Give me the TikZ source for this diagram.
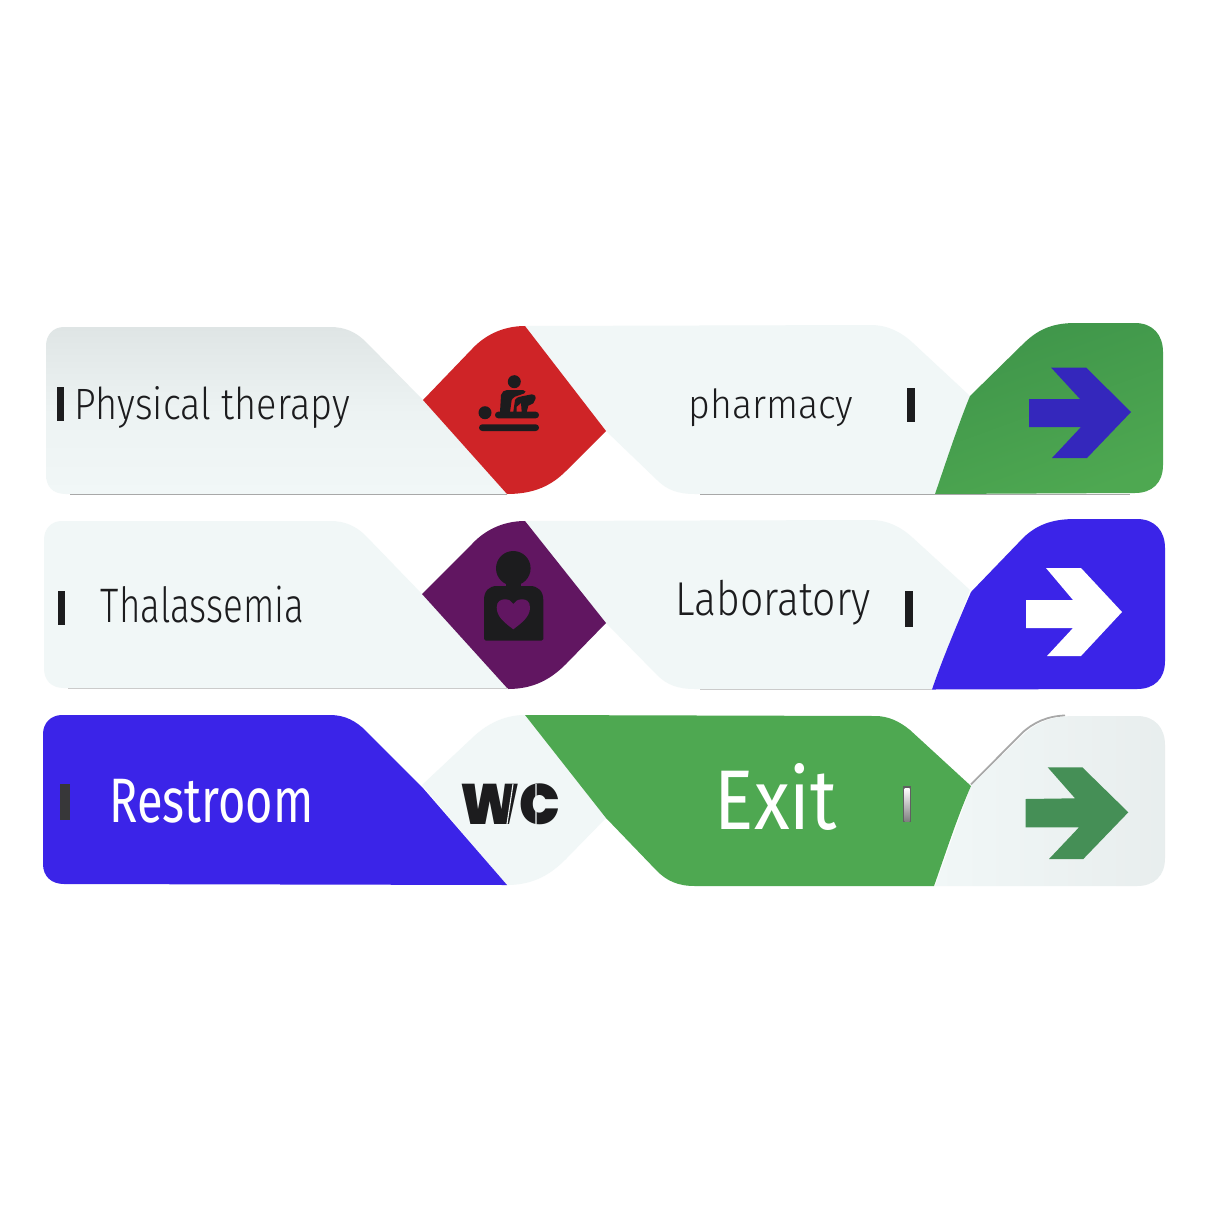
\documentclass[tikz,border=0pt]{standalone}
\usepackage{fontspec}
\usepackage{graphicx}
\setmainfont{Fira Sans Light}
\newfontfamily\whitefont{Fira Sans}
\newfontfamily\heavyfont{Poppins Black}
\definecolor{panel}{HTML}{F1F7F7}
\definecolor{panelgrey}{HTML}{DFE5E5}
\definecolor{signred}{HTML}{CF2427}
\definecolor{signpurple}{HTML}{611661}
\definecolor{signgreen}{HTML}{4EA851}
\definecolor{signgreendark}{HTML}{3F954A}
\definecolor{signblue}{HTML}{3B24E8}
\definecolor{arrowblue}{HTML}{3427BC}
\definecolor{arrowgreen}{HTML}{458F56}
\definecolor{ink}{HTML}{1C1C1E}
\definecolor{edge}{HTML}{A8A8A8}
\tikzset{
  signtext/.style={inner sep=0pt,outer sep=0pt,text=ink},
  slot/.style={fill=ink,draw=none},
  edgeline/.style={draw=edge,line width=0.8pt},
  icon/.style={fill=ink,draw=none}
}
% #1 name, #2 x centre, #3 y centre, #4 width, #5 height, #6 colour, #7 text
\newcommand{\signlabel}[7]{\node[signtext,text=#6] (#1) at (#2,#3) {\resizebox*{#4pt}{#5pt}{#7}};}
\begin{document}
\begin{tikzpicture}[x=1pt,y=-1pt]
\useasboundingbox (0,0) rectangle (1210,1210);
\fill[white] (0,0) rectangle (1210,1210);

% ===== ROW 1 =====
\shade[top color=panelgrey,bottom color=panel,middle color=panel!75!panelgrey]
 (64,327) -- (330,327) .. controls (345,327) and (356,332) .. (366,342) -- (423,400) -- (507,494) -- (66,494)
 .. controls (52,494) and (46,486) .. (46,474) -- (46,346) .. controls (46,335) and (53,327) .. (64,327) -- cycle;
\fill[panel] (525,326) -- (870,325) .. controls (888,325) and (901,332) .. (913,343) -- (970,396) -- (935,494)
 -- (695,494) .. controls (678,494) and (667,490) .. (657,480) -- (606,431) -- cycle;
\fill[signred] (423,400) -- (472,349) .. controls (484,336) and (502,326) .. (525,326) -- (606,431)
 -- (566,471) .. controls (552,485) and (535,494) .. (507,494) -- cycle;
\shade[top color=signgreendark,bottom color=signgreen,shading angle=20]
 (970,396) -- (1022,345) .. controls (1036,331) and (1050,323) .. (1075,323) -- (1135,323)
 .. controls (1153,323) and (1163,335) .. (1163,352) -- (1163,465) .. controls (1163,483) and (1152,493) .. (1135,493)
 -- (935,494) .. controls (945,465) and (958,425) .. (970,396) -- cycle;
\draw[edgeline] (70,494.5) -- (507,494.5) (700,494.5) -- (1130,494.5);
\fill[slot] (57,387) rectangle (64,421);
\fill[slot] (907,388) rectangle (915,422);
\signlabel{physical}{212.5}{407}{275}{42}{ink}{Physical therapy}
\signlabel{pharmacy}{771}{408}{165}{38}{ink}{pharmacy}
\fill[arrowblue] (1029,399) -- (1080,399) -- (1051,367.5) -- (1086,367.5) -- (1131,412) -- (1087,458) -- (1052,458) -- (1081,427) -- (1029,427) -- cycle;
% massage icon
\fill[icon] (514.3,381.7) circle (6.5);
\fill[icon] (485,412.7) circle (6.5);
\fill[icon,rounded corners=3.3pt] (479,424.3) rectangle (539,431);
\fill[icon,rounded corners=3.2pt] (495,411.7) rectangle (539,418.3);
\fill[icon] (500,412) -- (501,395) .. controls (502,392) and (504,390) .. (507,390) -- (523,390) -- (525.5,391.5) -- (524,393.5) -- (515,396.7)
 .. controls (513,398) and (512,399) .. (511.7,400) -- (510,412) -- cycle;
\fill[icon] (513.3,412) -- (515,400) .. controls (516,398) and (518,397) .. (520,396.7) -- (531.7,394.3)
 .. controls (535,395) and (536,396) .. (535.7,398.3) -- (533.3,403.3) -- (528.3,405.7) -- (526.7,412) -- (521.7,412) -- (521,403) -- (516.7,406.7) -- (516.7,412) -- cycle;

% ===== ROW 2 =====
\fill[panel] (62,521) -- (330,521) .. controls (345,521) and (356,526) .. (366,536) -- (422,594) -- (508,689) -- (64,688)
 .. controls (51,688) and (44,680) .. (44,668) -- (44,540) .. controls (44,529) and (51,521) .. (62,521) -- cycle;
\fill[panel] (525,521) -- (870,520) .. controls (888,520) and (901,527) .. (913,538) -- (970,590) -- (932,689)
 -- (695,689) .. controls (678,689) and (667,685) .. (657,675) -- (606,623) -- cycle;
\fill[signpurple] (422,594) -- (472,544) .. controls (484,531) and (502,521) .. (525,521) -- (606,623)
 -- (566,664) .. controls (552,678) and (535,689) .. (508,689) -- cycle;
\fill[signblue] (971,592) -- (1024,537) .. controls (1036,526) and (1050,519) .. (1075,519) -- (1137,519)
 .. controls (1155,519) and (1165,531) .. (1165,548) -- (1165,661) .. controls (1165,679) and (1154,689) .. (1137,689)
 -- (932,689.5) .. controls (942,660) and (958,622) .. (971,592) -- cycle;
\draw[edgeline,draw=edge!60] (68,688.8) -- (508,688.8) (700,689.8) -- (932,689.8);
\fill[slot] (58,591) rectangle (65,625);
\fill[slot] (905,591) rectangle (913,627);
\signlabel{thalassemia}{202.5}{605}{203}{37}{ink}{Thalassemia}
\signlabel{laboratory}{773}{603}{195}{45}{ink}{Laboratory}
\fill[white] (1026,600) -- (1073,600) -- (1046,568) -- (1081,568) -- (1122,612) -- (1081,656) -- (1047,656) -- (1073,628) -- (1026,628) -- cycle;
% person with heart
\fill[icon] (513.3,568.3) circle (17.3);
\fill[icon] (506,580) rectangle (521,590);
\fill[icon] (484,639) -- (484,600) .. controls (484,591) and (489,586) .. (497,586) -- (530,586)
 .. controls (538,586) and (543.3,591) .. (543.3,600) -- (543.3,639) -- (541.5,640.7) -- (485.8,640.7) -- cycle;
\fill[signpurple] (513.3,629.3) .. controls (505,623) and (496.7,617) .. (496.7,607.5) .. controls (496.7,601) and (501,599.3) .. (505,599.3)
 .. controls (509,599.3) and (511.5,601) .. (513.3,604) .. controls (515,601) and (518,599.3) .. (522,599.3)
 .. controls (526,599.3) and (530,601) .. (530,607.5) .. controls (530,617) and (521.5,623) .. (513.3,629.3) -- cycle;

% ===== ROW 3 =====
\fill[panel] (470,740) .. controls (484,726) and (502,715) .. (525,715) -- (606,818) -- (566,859)
 .. controls (552,873) and (535,885) .. (507,885) -- (422,785) -- cycle;
\fill[signblue] (62,715) -- (330,715) .. controls (345,715) and (356,721) .. (366,731) -- (422,787) -- (507,885) -- (64,884)
 .. controls (51,884) and (43,876) .. (43,864) -- (43,734) .. controls (43,723) and (51,715) .. (62,715) -- cycle;
\draw[edge,line width=1.8pt] (971,784.5) -- (1022,733) .. controls (1034,722) and (1048,716) .. (1065,715.5);
\shade[left color=panel,right color=panel!92!gray]
 (971,786) -- (1024,734) .. controls (1036,723) and (1050,716) .. (1075,716) -- (1137,716)
 .. controls (1155,716) and (1165,728) .. (1165,745) -- (1165,858) .. controls (1165,876) and (1154,886) .. (1137,886)
 -- (935,886) -- cycle;
\fill[signgreen] (525,715) -- (875,716) .. controls (888,716) and (899,721) .. (910,730) -- (971,786) .. controls (958,815) and (945,855) .. (934,886)
 -- (695,886) .. controls (678,886) and (667,881) .. (657,871) -- (606,818) -- cycle;
\fill[ink!88] (60,784) rectangle (70,820);
\fill[ink!70] (903,786) rectangle (911,822);
\shade[top color=white,bottom color=gray] (904.5,788) rectangle (909.5,821);
\signlabel{restroom}{211.5}{801}{204}{44}{white}{\whitefont Restroom}
\signlabel{exit}{776}{796.5}{122}{67}{white}{\whitefont Exit}
\fill[arrowgreen] (1025.7,799) -- (1075,798.3) -- (1047.7,767.3) -- (1082.3,767.3) -- (1128.3,812.3) -- (1083.3,859) -- (1049,859) -- (1079,827.3) -- (1025.7,827.3) -- cycle;
\node[signtext] (wc) at (510.5,804) {\resizebox*{100pt}{41pt}{\heavyfont WC}};
\draw[panel,line width=1.1pt] (513,784) -- (507,824) (536,784) -- (536,824);
\end{tikzpicture}
\end{document}
